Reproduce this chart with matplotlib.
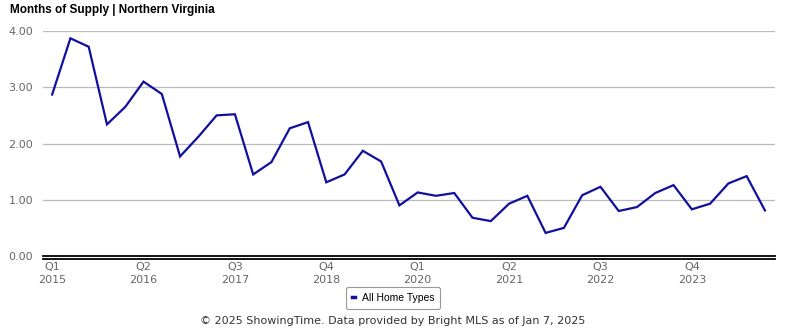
import matplotlib
matplotlib.use('Agg')
from matplotlib import pyplot as plt
from matplotlib import transforms
from matplotlib.lines import Line2D

# quarterly months of supply, Q1 2015 .. Q4 2024
quarters = [f'Q{q}\n{y}' for y in range(2015, 2025) for q in range(1, 5)]
months_supply = [2.87, 3.87, 3.72, 2.34, 2.65, 3.10, 2.88, 1.77,
                 2.12, 2.50, 2.52, 1.45, 1.67, 2.27, 2.38, 1.31,
                 1.45, 1.87, 1.68, 0.90, 1.13, 1.07, 1.12, 0.68,
                 0.62, 0.93, 1.07, 0.41, 0.50, 1.08, 1.23, 0.80,
                 0.87, 1.12, 1.26, 0.83, 0.93, 1.29, 1.42, 0.81]
y_ticks = [0, 1, 2, 3, 4]
series_name = 'All Home Types'

fig = plt.figure(figsize=(7.85, 3.3), dpi=100)
ax = fig.add_axes([43 / 785, 1 - 256 / 330, 732 / 785, 225 / 330])

x = list(range(len(months_supply)))
ax.plot(x, months_supply, color='#10109e', lw=1.6, solid_joinstyle='miter', zorder=3)

ax.set_xlim(-0.5, 39.55)
ax.set_ylim(0, 4)
ax.set_yticks(y_ticks)
ax.set_yticklabels([f'{v:.2f}' for v in y_ticks])
tick_pos = x[::5]
ax.set_xticks(tick_pos)
ax.set_xticklabels([quarters[i] for i in tick_pos], linespacing=1.45)
ax.tick_params(axis='both', length=0, colors='#666666', labelsize=8)
ax.tick_params(axis='y', pad=7)
ax.tick_params(axis='x', pad=4)

for v in y_ticks[1:]:
    ax.axhline(v, color='#bbbbbb', lw=0.9, zorder=1)
for side in ['top', 'right', 'left', 'bottom']:
    ax.spines[side].set_visible(False)

# double baseline
ax.axhline(0, color='black', lw=1.3, zorder=4, clip_on=False)
below = transforms.offset_copy(ax.get_yaxis_transform(), fig=fig, y=-3, units='dots')
ax.add_line(Line2D([0, 1], [0, 0], transform=below, color='black', lw=1.3, clip_on=False))

fig.text(10 / 785, 1 - 10 / 330, 'Months of Supply | Northern Virginia', fontsize=8.5,
         fontweight='bold', family='Liberation Sans', va='center', ha='left')

handle = Line2D([], [], color='#10109e', lw=2.5)
leg = fig.legend([handle], [series_name], loc='center', bbox_to_anchor=(393 / 785, 1 - 298 / 330),
                 handlelength=0.35, handletextpad=0.6, frameon=True, fancybox=True,
                 edgecolor='#999999', prop={'family': 'Liberation Sans', 'size': 7.5},
                 borderpad=0.55, framealpha=1)
leg.get_frame().set_linewidth(0.8)

fig.text(393 / 785, 1 - 321 / 330, '© 2025 ShowingTime. Data provided by Bright MLS as of Jan 7, 2025',
         fontsize=8, color='#333333', ha='center', va='center')

fig.savefig('out.png', dpi=100)
